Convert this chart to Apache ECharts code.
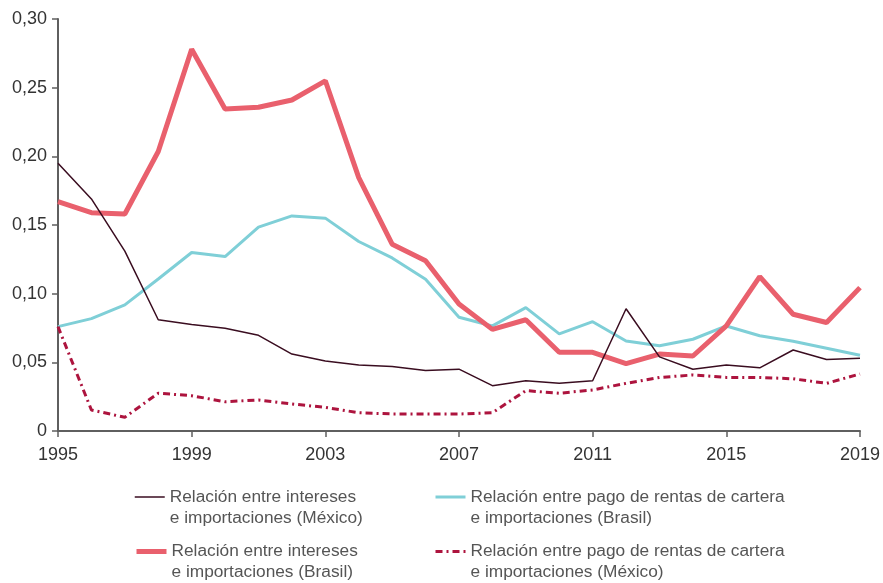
<!DOCTYPE html>
<html>
<head>
<meta charset="utf-8">
<script src="https://cdn.jsdelivr.net/npm/echarts@6/dist/echarts.min.js"></script>
<style>
  html, body { margin: 0; padding: 0; background: #fff; }
  #chart { width: 883px; height: 583px; }
</style>
</head>
<body>
<div id="chart"></div>
<script>
const years = ["1995","1996","1997","1998","1999","2000","2001","2002","2003","2004","2005","2006","2007","2008","2009","2010","2011","2012","2013","2014","2015","2016","2017","2018","2019"];

// Relación entre intereses e importaciones (México)
const mexInt = [0.195,0.169,0.131,0.081,0.0775,0.0748,0.0697,0.056,0.051,0.048,0.047,0.044,0.045,0.033,0.0366,0.0347,0.0366,0.089,0.054,0.045,0.048,0.046,0.059,0.052,0.053];
// Relación entre intereses e importaciones (Brasil)
const braInt = [0.167,0.159,0.158,0.2035,0.278,0.2345,0.2357,0.241,0.255,0.1845,0.136,0.124,0.0925,0.074,0.081,0.0573,0.0573,0.049,0.056,0.0546,0.0765,0.1124,0.085,0.079,0.1044];
// Relación entre pago de rentas de cartera e importaciones (Brasil)
const braRent = [0.076,0.0818,0.0918,0.1107,0.130,0.127,0.1484,0.1566,0.155,0.138,0.126,0.1105,0.0828,0.0765,0.0898,0.0707,0.0796,0.0655,0.0621,0.0668,0.0765,0.0694,0.0653,0.0602,0.0551];
// Relación entre pago de rentas de cartera e importaciones (México)
const mexRent = [0.076,0.0153,0.010,0.0275,0.0257,0.0213,0.0226,0.0197,0.0172,0.0133,0.0124,0.0124,0.0124,0.0133,0.0294,0.0275,0.0299,0.0347,0.039,0.0408,0.039,0.039,0.038,0.0347,0.0415];

const names = [
  "Relación entre intereses\ne importaciones (México)",
  "Relación entre intereses\ne importaciones (Brasil)",
  "Relación entre pago de rentas de cartera\ne importaciones (Brasil)",
  "Relación entre pago de rentas de cartera\ne importaciones (México)"
];

const font = "'Liberation Sans', Arial, sans-serif";
const axisColor = "#5f5f5f";

let chart = echarts.init(document.getElementById("chart"), null, { renderer: "canvas" });

// one legend per item; a blank first line keeps the icon level with the first text line
function makeLegend(name, left, top, lineWidth) {
  return {
    data: [name],
    left: left,
    top: top,
    orient: "vertical",
    padding: 0,
    itemWidth: 30,
    itemHeight: 14,
    itemGap: 0,
    selectedMode: false,
    itemStyle: { opacity: 0, color: "transparent", borderColor: "transparent" },
    lineStyle: { width: lineWidth },
    formatter: function (n) {
      return " \n" + n;
    },
    textStyle: {
      fontFamily: font,
      fontSize: 17.3,
      color: "#555555",
      lineHeight: 21
    }
  };
}

let option = {
  animation: false,
  backgroundColor: "#ffffff",
  grid: {
    left: 58,
    right: 23,
    top: 19,
    bottom: 152,
    containLabel: false
  },
  legend: [
    makeLegend(names[0], 134, 465.5, 1.5),
    makeLegend(names[1], 134, 520, 5),
    makeLegend(names[2], 434, 465.5, 3),
    makeLegend(names[3], 434, 520, 3)
  ],
  xAxis: {
    type: "category",
    data: years,
    boundaryGap: false,
    axisLine: { show: true, lineStyle: { color: axisColor, width: 2 } },
    axisTick: { show: true, interval: 3, length: 6, lineStyle: { color: axisColor, width: 1.5 } },
    axisLabel: {
      interval: 3,
      margin: 15,
      fontFamily: font,
      fontSize: 18,
      color: "#333333"
    },
    splitLine: { show: false }
  },
  yAxis: {
    type: "value",
    min: 0,
    max: 0.3,
    interval: 0.05,
    axisLine: { show: true, lineStyle: { color: axisColor, width: 2 } },
    axisTick: { show: true, length: 6, lineStyle: { color: axisColor, width: 1.5 } },
    axisLabel: {
      margin: 11,
      fontFamily: font,
      fontSize: 18,
      color: "#333333",
      formatter: function (v) {
        if (v === 0) return "0";
        return v.toFixed(2).replace(".", ",");
      }
    },
    splitLine: { show: false }
  },
  series: [
    {
      name: names[2],
      type: "line",
      data: braRent,
      showSymbol: false,
      symbol: "none",
      lineStyle: { color: "#7fcfd7", width: 3 },
      itemStyle: { color: "#7fcfd7" },
      z: 2
    },
    {
      name: names[1],
      type: "line",
      data: braInt,
      showSymbol: false,
      symbol: "none",
      lineStyle: { color: "#e9606d", width: 5 },
      itemStyle: { color: "#e9606d" },
      z: 3
    },
    {
      name: names[0],
      type: "line",
      data: mexInt,
      showSymbol: false,
      symbol: "none",
      lineStyle: { color: "#3a0d20", width: 1.5 },
      itemStyle: { color: "#3a0d20" },
      z: 4
    },
    {
      name: names[3],
      type: "line",
      data: mexRent,
      showSymbol: false,
      symbol: "none",
      lineStyle: { color: "#ad143e", width: 3, type: [7, 4, 2, 4] },
      itemStyle: { color: "#ad143e" },
      z: 5
    }
  ]
};
option && chart.setOption(option);
</script>
</body>
</html>
